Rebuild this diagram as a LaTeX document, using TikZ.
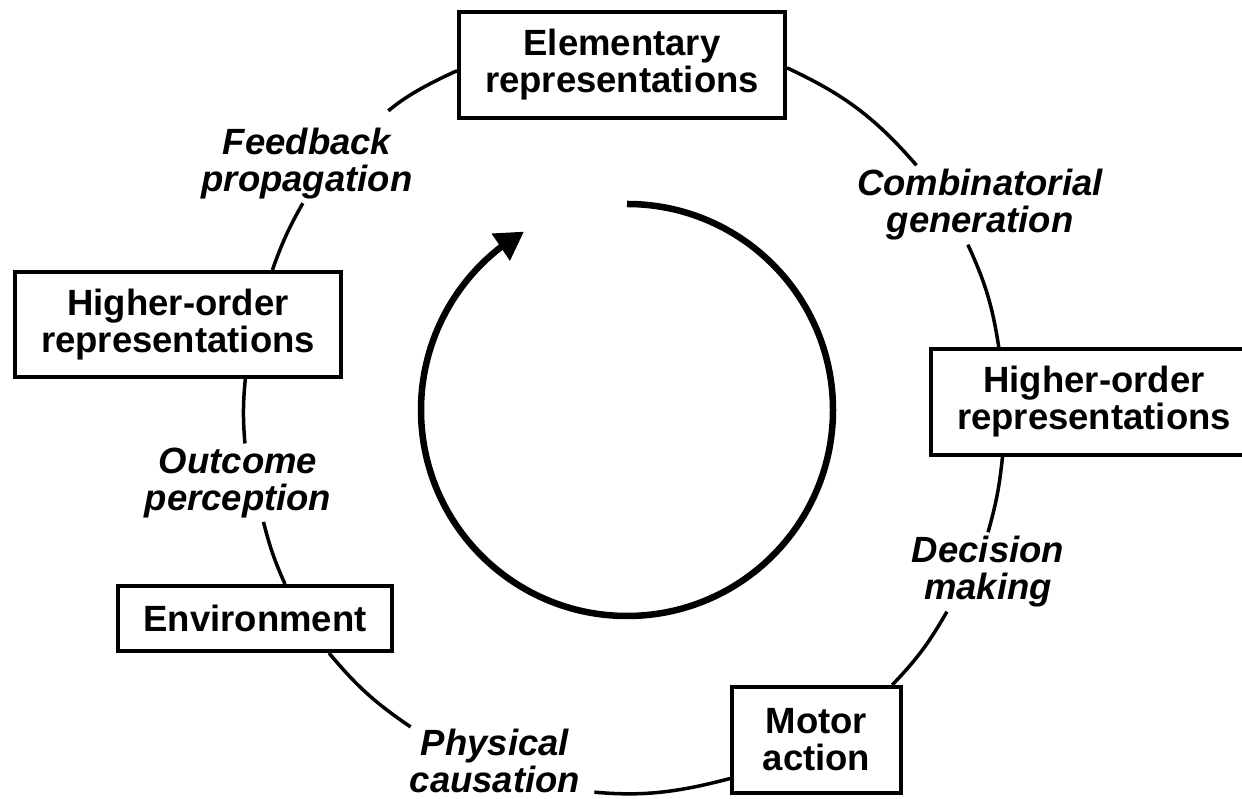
\documentclass[tikz,border=0pt]{standalone}
\usepackage{fontspec}
\setmainfont{Liberation Sans}
\usetikzlibrary{arrows.meta,bending}
\newcommand{\cyclefont}{\fontsize{36.5}{37}\selectfont}

\begin{document}
\begin{tikzpicture}[x=1pt,y=1pt]
    \tikzset{stage/.style={draw, shape=rectangle, line width=4pt, inner sep=0pt, align=center, font=\cyclefont\bfseries},
             process/.style={shape=rectangle, inner sep=4pt, align=center, font=\cyclefont\bfseries\itshape},
             ring/.style={line width=3.5pt}}
    \useasboundingbox (0,0) rectangle (1242,799);
    \clip (0,0) rectangle (1242,799);

    \node[stage, minimum width=326pt, minimum height=106pt] (elem) at (622,734) {Elementary\\representations};
    \node[stage, minimum width=326pt, minimum height=106pt] (horR) at (1094,397) {Higher-order\\representations};
    \node[stage, minimum width=169pt, minimum height=106pt] (motor) at (816.5,59) {Motor\\action};
    \node[stage, minimum width=274pt, minimum height=65pt] (env) at (255,180.5) {Environment};
    \node[stage, minimum width=326pt, minimum height=105pt] (horL) at (178,474.5) {Higher-order\\representations};

    \node[process] (comb) at (980,594) {Combinatorial\\generation};
    \node[process] (dec) at (988,227) {Decision\\making};
    \node[process, inner sep=2pt] (phys) at (495,38) {Physical\\causation};
    \node[process] (outc) at (238,316.3) {Outcome\\perception};
    \node[process] (feed) at (307,635.5) {Feedback\\propagation};

    \draw[ring] (elem.-1) to[bend left=12] (comb.148)
        (comb.-107) to[bend left=8] (horR.150)
        (horR.-149) to[bend left=5] (dec.90)
        (dec.-136) to[bend left=7] (motor.36)
        (phys.158) to[bend left=8] (env.-25)
        (env.49) to[bend left=5] (outc.-57)
        (outc.80) to[bend left=5] (horL.-39)
        (horL.30) to[bend left=5] (feed.-96);
    \draw[ring, shorten >=12pt] (motor.-156) to[bend left=10] (phys.-19);
    \draw[ring, shorten <=20pt] (feed.31) to[bend left=8] (elem.182);

    \coordinate (hub) at (627,389);
    \draw[line width=6.5pt, -{Triangle[length=28pt,width=31pt]}]
        ([shift={(90:206)}]hub) arc[start angle=90, end angle=-240, radius=206];
\end{tikzpicture}
\end{document}
